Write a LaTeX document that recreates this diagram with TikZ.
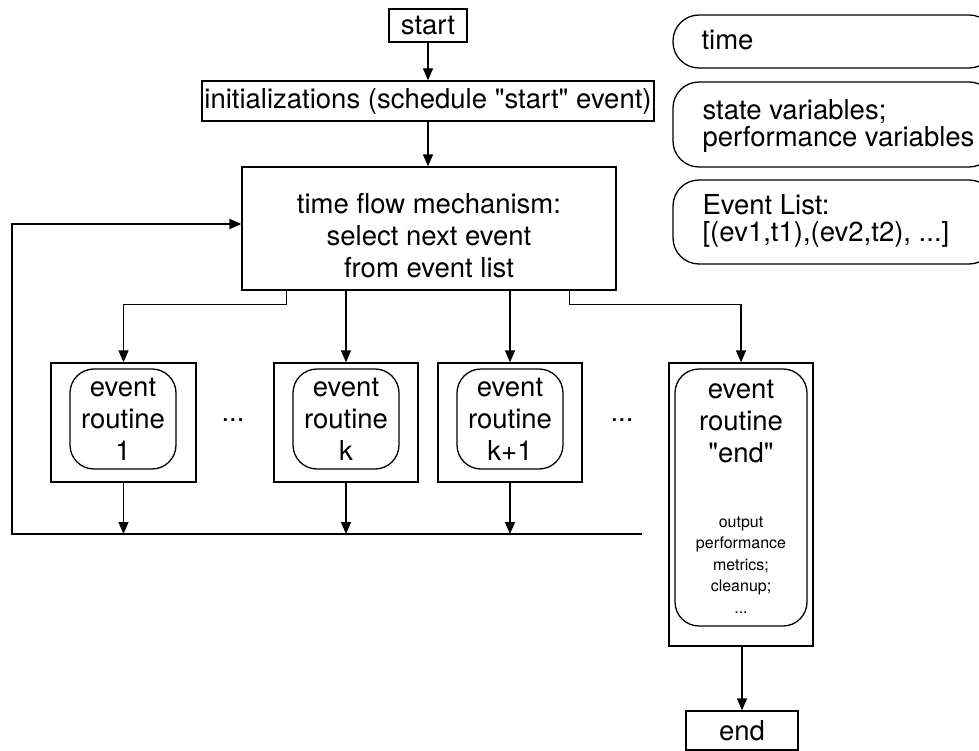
\documentclass[tikz,border=0pt]{standalone}
\usepackage{fontspec}
\setmainfont{TeX Gyre Heros}
\usetikzlibrary{arrows.meta}
\begin{document}
\begin{tikzpicture}[x=1pt,y=-1pt,
  every node/.style={font=\fontsize{27.5}{32}\selectfont},
  box/.style={draw, line width=1.3pt, inner sep=0pt},
  rbox/.style={draw, line width=1.3pt, rounded corners=24pt, inner sep=0pt},
  sbox/.style={draw, line width=1.3pt, rounded corners=26pt, inner sep=0pt},
  arr/.style={line width=1.3pt, -{Triangle[length=12pt,width=10pt]}},
  small/.style={font=\fontsize{16}{21.5}\selectfont},
  side/.style={font=\fontsize{27.5}{27}\selectfont, align=left, anchor=base west},
]
\useasboundingbox (0,0) rectangle (979,751);

% main flow
\node[box, minimum width=78pt, minimum height=33pt] (start) at (428,25.5) {start};
\node[box, minimum width=452pt, minimum height=40pt] (init) at (428,101) {initializations (schedule \textquotedbl start\textquotedbl\ event)};
\node[box, minimum width=374pt, minimum height=123pt] (tfm) at (429,228.5) {};
\node[align=center, anchor=base] (tfmtext) at (429,277) {time flow mechanism:\\select next event\\from event list};

% event routines
\node[box, minimum width=145pt, minimum height=119pt] (ev1) at (123.5,422.5) {};
\node[rbox, minimum width=106pt, minimum height=100pt, align=center] (ev1in) at (123,419) {event\\routine\\1};
\node[box, minimum width=144pt, minimum height=119pt] (evk) at (346,422.5) {};
\node[rbox, minimum width=106pt, minimum height=100pt, align=center] (evkin) at (346,419) {event\\routine\\k};
\node[box, minimum width=144pt, minimum height=119pt] (evk1) at (510,422.5) {};
\node[rbox, minimum width=106pt, minimum height=100pt, align=center] (evk1in) at (510,419) {event\\routine\\k+1};
\node (dots1) at (233,420) {...};
\node (dots2) at (622,420) {...};

\node[box, minimum width=144pt, minimum height=283pt] (evend) at (741,504.5) {};
\node[rbox, minimum width=132pt, minimum height=257pt] (evendin) at (741,497.5) {};
\node[align=center, anchor=base] (evendtext) at (741,462) {event\\routine\\\textquotedbl end\textquotedbl};
\node[small, align=center, anchor=base] (evendsmall) at (741,613) {output\\performance\\metrics;\\cleanup;\\...};
\node[box, minimum width=112pt, minimum height=39pt] (end) at (742,730.5) {end};

% side boxes
\node[sbox, minimum width=322pt, minimum height=53pt] (time) at (834,41.5) {};
\node[side] (timetext) at (698,50) {time};
\node[sbox, minimum width=322pt, minimum height=85pt] (state) at (834,124.5) {};
\node[side] (statetext) at (699,147) {state variables;\\performance variables};
\node[sbox, minimum width=322pt, minimum height=84pt] (evlist) at (834,222) {};
\node[side] (evlisttext) at (699,242) {Event List:\\{[}(ev1,t1),(ev2,t2), ...{]}};

% bus coordinates
\coordinate (busL) at (12,534);
\coordinate (busR) at (642,534);

% connectors
\draw[arr] (start) -- (init);
\draw[arr] (init.south) -- (init.south |- tfm.north);
\draw[arr] ([xshift=45pt]tfm.south west) -- ++(0,14) -| (ev1.north);
\draw[arr] (tfm.south -| evk.north) -- (evk.north);
\draw[arr] (tfm.south -| evk1.north) -- (evk1.north);
\draw[arr] ([xshift=-47pt]tfm.south east) -- ++(0,14) -| (evend.north);
\draw[arr] (ev1.south) -- (ev1.south |- busL);
\draw[arr] (evk.south) -- (evk.south |- busL);
\draw[arr] (evk1.south) -- (evk1.south |- busL);
\draw[arr] (busR) -- (busL) |- ([yshift=4.5pt]tfm.west);
\draw[arr] (end.north |- evend.south) -- (end.north);
\end{tikzpicture}
\end{document}
